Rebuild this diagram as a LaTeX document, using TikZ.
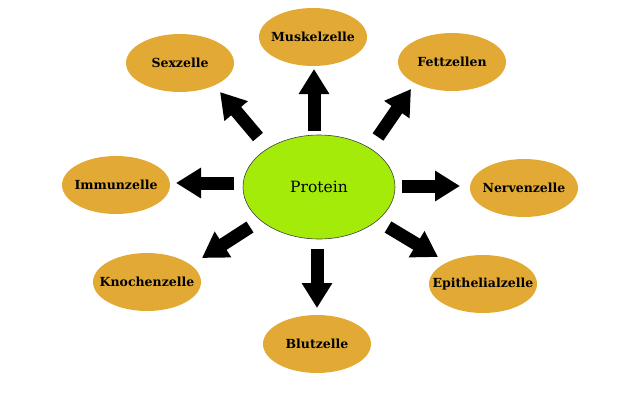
\documentclass[tikz,border=0pt]{standalone}
\usepackage{fontspec}
\setmainfont{DejaVu Serif}
\usetikzlibrary{arrows.meta,shapes.geometric}
\definecolor{cellorange}{RGB}{226,170,52}
\definecolor{protgreen}{RGB}{165,235,10}
\begin{document}
\begin{tikzpicture}[x=1pt,y=-1pt,
  cell/.style={ellipse, fill=cellorange, minimum width=108pt, minimum height=58pt, inner xsep=-16pt, inner ysep=0pt,
    font=\bfseries\fontsize{12.5}{14}\selectfont},
  blk/.style={line width=13pt, draw=black, -{Triangle[width=29pt,length=25pt]}}]
\useasboundingbox (0,0) rectangle (640,402);
\node[ellipse, fill=protgreen, draw=black!75, line width=0.6pt, minimum width=152pt, minimum height=104pt,
  inner sep=0pt, font=\fontsize{15.5}{18}\selectfont] (p) at (319,187) {Protein};
\node[cell] (sex)  at (180,63)  {Sexzelle};
\node[cell] (musk) at (313,37)  {Muskelzelle};
\node[cell] (fett) at (452,62)  {Fettzellen};
\node[cell] (nerv) at (524,188) {Nervenzelle};
\node[cell] (epi)  at (483,284) {Epithelialzelle};
\node[cell] (imm)  at (116,185) {Immunzelle};
\node[cell] (kno)  at (147,282) {Knochenzelle};
\node[cell] (blut) at (317,344) {Blutzelle};
% arrow ends
\coordinate (s1) at (258,137); \coordinate (t1) at (220,92);
\coordinate (s2) at (314,131); \coordinate (t2) at (314,69);
\coordinate (s3) at (378,137); \coordinate (t3) at (411,89);
\coordinate (s4) at (402,186); \coordinate (t4) at (460,186);
\coordinate (s5) at (388,227); \coordinate (t5) at (438,257);
\coordinate (s6) at (234,183); \coordinate (t6) at (176,183);
\coordinate (s7) at (250,227); \coordinate (t7) at (202,258);
\coordinate (s8) at (317,249); \coordinate (t8) at (317,308);
\draw[blk] (s1) -- (t1);
\draw[blk] (s2) -- (t2);
\draw[blk] (s3) -- (t3);
\draw[blk] (s4) -- (t4);
\draw[blk] (s5) -- (t5);
\draw[blk] (s6) -- (t6);
\draw[blk] (s7) -- (t7);
\draw[blk] (s8) -- (t8);
\end{tikzpicture}
\end{document}
